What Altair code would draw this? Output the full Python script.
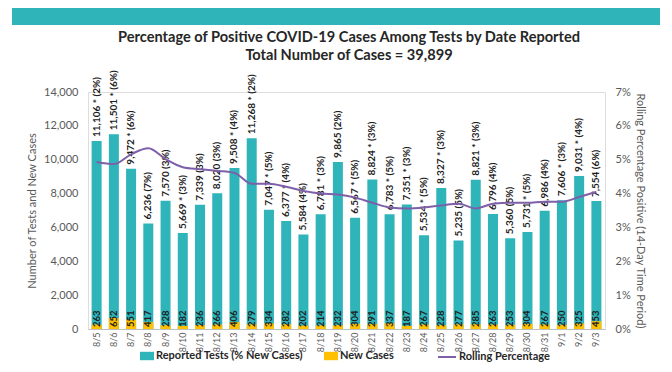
import altair as alt
import pandas as pd

FONT = "Lato"
TEAL = "#2EB4B9"
GOLD = "#FFC000"
PURPLE = "#7E5FA9"

title_lines = ["Percentage of Positive COVID-19 Cases Among Tests by Date Reported",
               "Total Number of Cases = 39,899"]
dates = ["8/5", "8/6", "8/7", "8/8", "8/9", "8/10", "8/11", "8/12", "8/13", "8/14",
         "8/15", "8/16", "8/17", "8/18", "8/19", "8/20", "8/21", "8/22", "8/23", "8/24",
         "8/25", "8/26", "8/27", "8/28", "8/29", "8/30", "8/31", "9/1", "9/2", "9/3"]
tests = [11106, 11501, 9472, 6236, 7570, 5669, 7339, 8020, 9508, 11268,
         7047, 6377, 5584, 6781, 9865, 6567, 8824, 6783, 7351, 5534,
         8327, 5235, 8821, 6796, 5360, 5731, 6986, 7606, 9031, 7554]
new_cases = [263, 652, 551, 417, 228, 182, 236, 266, 406, 279,
             334, 282, 202, 214, 232, 304, 291, 337, 187, 267,
             228, 277, 285, 263, 253, 304, 267, 250, 325, 453]
starred = [1, 1, 1, 0, 0, 1, 0, 0, 1, 1,
           1, 1, 0, 1, 0, 1, 1, 1, 1, 1,
           1, 0, 1, 0, 0, 1, 0, 1, 1, 0]
pct_new = [2, 6, 6, 7, 3, 3, 3, 3, 4, 2,
           5, 4, 4, 3, 2, 5, 3, 5, 3, 5,
           3, 5, 3, 4, 5, 5, 4, 3, 4, 6]
rolling_pct = [4.93, 4.87, 5.16, 5.34, 5.02, 4.78, 4.72, 4.67, 4.61, 4.29,
               4.29, 4.20, 4.08, 4.00, 3.97, 3.88, 3.73, 3.59, 3.56, 3.59,
               3.65, 3.70, 3.56, 3.70, 3.73, 3.73, 3.76, 3.76, 3.90, 4.05]
left_ticks = [0, 2000, 4000, 6000, 8000, 10000, 12000, 14000]
right_ticks = [0, 0.01, 0.02, 0.03, 0.04, 0.05, 0.06, 0.07]
series_names = ["Reported Tests (% New Cases)", "New Cases", "Rolling Percentage"]

labels = [f"{t:,}{' *' if s else ''} ({p}%)" for t, s, p in zip(tests, starred, pct_new)]

df = pd.DataFrame({
    "date": dates,
    "tests": tests,
    "new": new_cases,
    "label": labels,
    "roll": [r / 100 for r in rolling_pct],
    "s_tests": series_names[0],
    "s_new": series_names[1],
    "s_roll": series_names[2],
})

W, H = 517, 237
TOP = 84
LEFT_TITLE = "Number of Tests and New Cases"

x = alt.X("date:N", sort=dates, title=None,
          scale=alt.Scale(paddingInner=0.42, paddingOuter=0.21),
          axis=alt.Axis(labelAngle=270, labelFontSize=9, labelColor="#595959",
                        labelPadding=3, ticks=False, domainColor="#bfbfbf",
                        labelFont=FONT))

left_axis = alt.Axis(values=left_ticks, labelExpr="format(datum.value, ',')",
                     grid=False, domain=False,
                     ticks=False, labelPadding=10, labelFontSize=11,
                     labelColor="#595959", labelFont=FONT, titleFont=FONT,
                     titleFontSize=11, titleFontWeight="normal",
                     titleColor="#595959", titlePadding=6)
left_scale = alt.Scale(domain=[0, 14000])

legend_common = dict(orient="none", title=None, labelFontSize=11,
                     labelFontWeight="bold", labelColor="#262626",
                     labelFont=FONT, labelLimit=400, labelOffset=2)

color_scale = alt.Scale(domain=series_names[:2], range=[TEAL, GOLD])
bar_legend = alt.Legend(legendX=52, legendY=H + 20, direction="horizontal",
                        symbolType="M-1,-0.6H1V0.6H-1Z", symbolSize=196,
                        symbolStrokeWidth=0, columnPadding=20, **legend_common)

base = alt.Chart(df)

tests_bar = base.mark_bar().encode(
    x=x,
    y=alt.Y("tests:Q", scale=left_scale, axis=left_axis, title=LEFT_TITLE),
    color=alt.Color("s_tests:N", scale=color_scale, legend=bar_legend),
)
new_bar = base.mark_bar().encode(
    x=x,
    y=alt.Y("new:Q", scale=left_scale, axis=left_axis, title=LEFT_TITLE),
    color=alt.Color("s_new:N", scale=color_scale, legend=bar_legend),
)
tests_text = base.mark_text(angle=270, align="left", baseline="middle", dx=4,
                            fontSize=10, fontWeight="bold", color="#1e1e1e",
                            font=FONT).encode(
    x=x,
    y=alt.Y("tests:Q", scale=left_scale, axis=left_axis, title=LEFT_TITLE),
    text="label:N",
)
new_text = base.mark_text(angle=270, align="left", baseline="middle", dx=2,
                          fontSize=9.5, fontWeight="bold", color="#1e1e1e",
                          font=FONT).encode(
    x=x,
    y=alt.YDatum(0, scale=left_scale, axis=left_axis, title=LEFT_TITLE),
    text="new:Q",
)

left = alt.layer(tests_bar, new_bar, tests_text, new_text)

line = base.mark_line(interpolate="monotone", strokeWidth=2).encode(
    x=x,
    y=alt.Y("roll:Q", scale=alt.Scale(domain=[0, 0.07]),
            title="Rolling Percentage Positive (14-Day Time Period)",
            axis=alt.Axis(orient="right", values=right_ticks, format=".0%",
                          grid=False, domain=False, ticks=False, labelPadding=10,
                          labelFontSize=11, labelColor="#595959", labelFont=FONT,
                          titleFont=FONT, titleFontSize=11, titleFontWeight="normal",
                          titleColor="#595959", titlePadding=4)),
    stroke=alt.Stroke("s_roll:N",
                      scale=alt.Scale(domain=series_names[2:], range=[PURPLE]),
                      legend=alt.Legend(legendX=349, legendY=H + 18,
                                        symbolType="stroke", symbolSize=324,
                                        symbolStrokeWidth=2, **legend_common)),
)

deco = alt.Chart(alt.Data(values=[{}]))
banner = deco.mark_rect(color=TEAL).encode(
    x=alt.value(-76), x2=alt.value(572), y=alt.value(-TOP), y2=alt.value(-TOP + 17)
)
title1 = deco.mark_text(text=title_lines[0], fontSize=14.6, fontWeight="bold",
                        color="#262626", font=FONT, baseline="middle").encode(
    x=alt.value(261), y=alt.value(-TOP + 30))
title2 = deco.mark_text(text=title_lines[1], fontSize=14.6, fontWeight="bold",
                        color="#262626", font=FONT, baseline="middle").encode(
    x=alt.value(261), y=alt.value(-TOP + 48))

chart = alt.layer(left, line, banner, title1, title2).resolve_scale(
    y="independent"
).properties(
    width=W, height=H,
    autosize=alt.AutoSizeParams(type="none"),
    padding={"left": 80, "top": TOP, "right": 59, "bottom": 356 - TOP - H},
).configure_view(stroke=None).configure(background="white")

chart.save("out.html", embed_options={"renderer": "svg", "actions": False})
